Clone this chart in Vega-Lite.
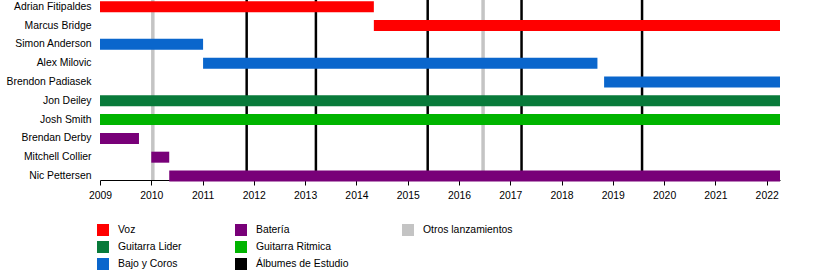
{
  "$schema": "https://vega.github.io/schema/vega-lite/v6.json",
  "autosize": {"type": "none"},
  "padding": {"left": 100, "right": 50, "top": 0, "bottom": 90},
  "width": 680,
  "height": 180,
  "config": {
    "font": "Liberation Sans",
    "view": {"stroke": null},
    "axis": {"labelColor": "#000000", "labelFontSize": 10.4, "grid": false, "title": null}
  },
  "datasets": {
    "members": [
      {"name": "Adrian Fitipaldes", "role": "Voz", "start": 2009, "end": 2014.34},
      {"name": "Marcus Bridge", "role": "Voz", "start": 2014.34, "end": 2022.26},
      {"name": "Simon Anderson", "role": "Bajo y Coros", "start": 2009, "end": 2011.01},
      {"name": "Alex Milovic", "role": "Bajo y Coros", "start": 2011.01, "end": 2018.70},
      {"name": "Brendon Padiasek", "role": "Bajo y Coros", "start": 2018.83, "end": 2022.26},
      {"name": "Jon Deiley", "role": "Guitarra Lider", "start": 2009, "end": 2022.26},
      {"name": "Josh Smith", "role": "Guitarra Ritmica", "start": 2009, "end": 2022.26},
      {"name": "Brendan Derby", "role": "Batería", "start": 2009, "end": 2009.76},
      {"name": "Mitchell Collier", "role": "Batería", "start": 2010.0, "end": 2010.35},
      {"name": "Nic Pettersen", "role": "Batería", "start": 2010.35, "end": 2022.26}
    ],
    "releases": [
      {"type": "Otros lanzamientos", "date": 2010.03},
      {"type": "Otros lanzamientos", "date": 2016.47},
      {"type": "Álbumes de Estudio", "date": 2011.86},
      {"type": "Álbumes de Estudio", "date": 2013.21},
      {"type": "Álbumes de Estudio", "date": 2015.39},
      {"type": "Álbumes de Estudio", "date": 2017.22},
      {"type": "Álbumes de Estudio", "date": 2019.57}
    ]
  },
  "layer": [
    {
      "data": {"name": "releases"},
      "transform": [{"filter": "datum.type === 'Otros lanzamientos'"}],
      "mark": {"type": "rule", "strokeWidth": 3.5},
      "encoding": {
        "x": {"field": "date", "type": "quantitative", "scale": {"domain": [2009, 2022.26], "nice": false, "zero": false}},
        "color": {
          "field": "type", "type": "nominal",
          "scale": {
            "domain": ["Voz", "Batería", "Otros lanzamientos", "Guitarra Lider", "Guitarra Ritmica", " ", "Bajo y Coros", "Álbumes de Estudio"],
            "range": ["#ff0000", "#780078", "#c4c4c4", "#087a3a", "#00b400", "transparent", "#0a66cc", "#000000"]
          },
          "legend": {
            "title": null, "orient": "none", "legendX": -3, "legendY": 224, "columns": 3, "direction": "horizontal",
            "padding": 0, "symbolType": "square", "symbolSize": 144, "symbolStrokeWidth": 0, "symbolOpacity": 1,
            "labelFontSize": 10.4, "labelColor": "#000000", "labelOffset": 9, "rowPadding": 5, "columnPadding": 53,
            "encode": {"symbols": {"update": {"fill": {"scale": "color", "field": "value"}, "stroke": {"value": "transparent"}, "opacity": {"value": 1}}}}
          }
        }
      }
    },
    {
      "data": {"name": "releases"},
      "transform": [{"filter": "datum.type === 'Álbumes de Estudio'"}],
      "mark": {"type": "rule", "strokeWidth": 2.5},
      "encoding": {
        "x": {"field": "date", "type": "quantitative"},
        "color": {"field": "type", "type": "nominal"}
      }
    },
    {
      "data": {"name": "members"},
      "mark": {"type": "bar", "size": 11},
      "encoding": {
        "y": {
          "field": "name", "type": "nominal",
          "sort": ["Adrian Fitipaldes", "Marcus Bridge", "Simon Anderson", "Alex Milovic", "Brendon Padiasek", "Jon Deiley", "Josh Smith", "Brendan Derby", "Mitchell Collier", "Nic Pettersen"],
          "scale": {"paddingInner": 0, "paddingOuter": 0, "range": [-2.7, 185.4]},
          "axis": {"domain": false, "ticks": false, "labelPadding": 9, "title": null, "labelFontSize": 10.4}
        },
        "x": {
          "field": "start", "type": "quantitative",
          "axis": {"values": [2009, 2010, 2011, 2012, 2013, 2014, 2015, 2016, 2017, 2018, 2019, 2020, 2021, 2022], "format": "d", "labelFlush": false, "labelOverlap": false, "domainColor": "#000000", "tickColor": "#000000", "tickSize": 5, "labelPadding": 5, "title": null}
        },
        "x2": {"field": "end"},
        "color": {"field": "role", "type": "nominal"}
      }
    }
  ]
}
